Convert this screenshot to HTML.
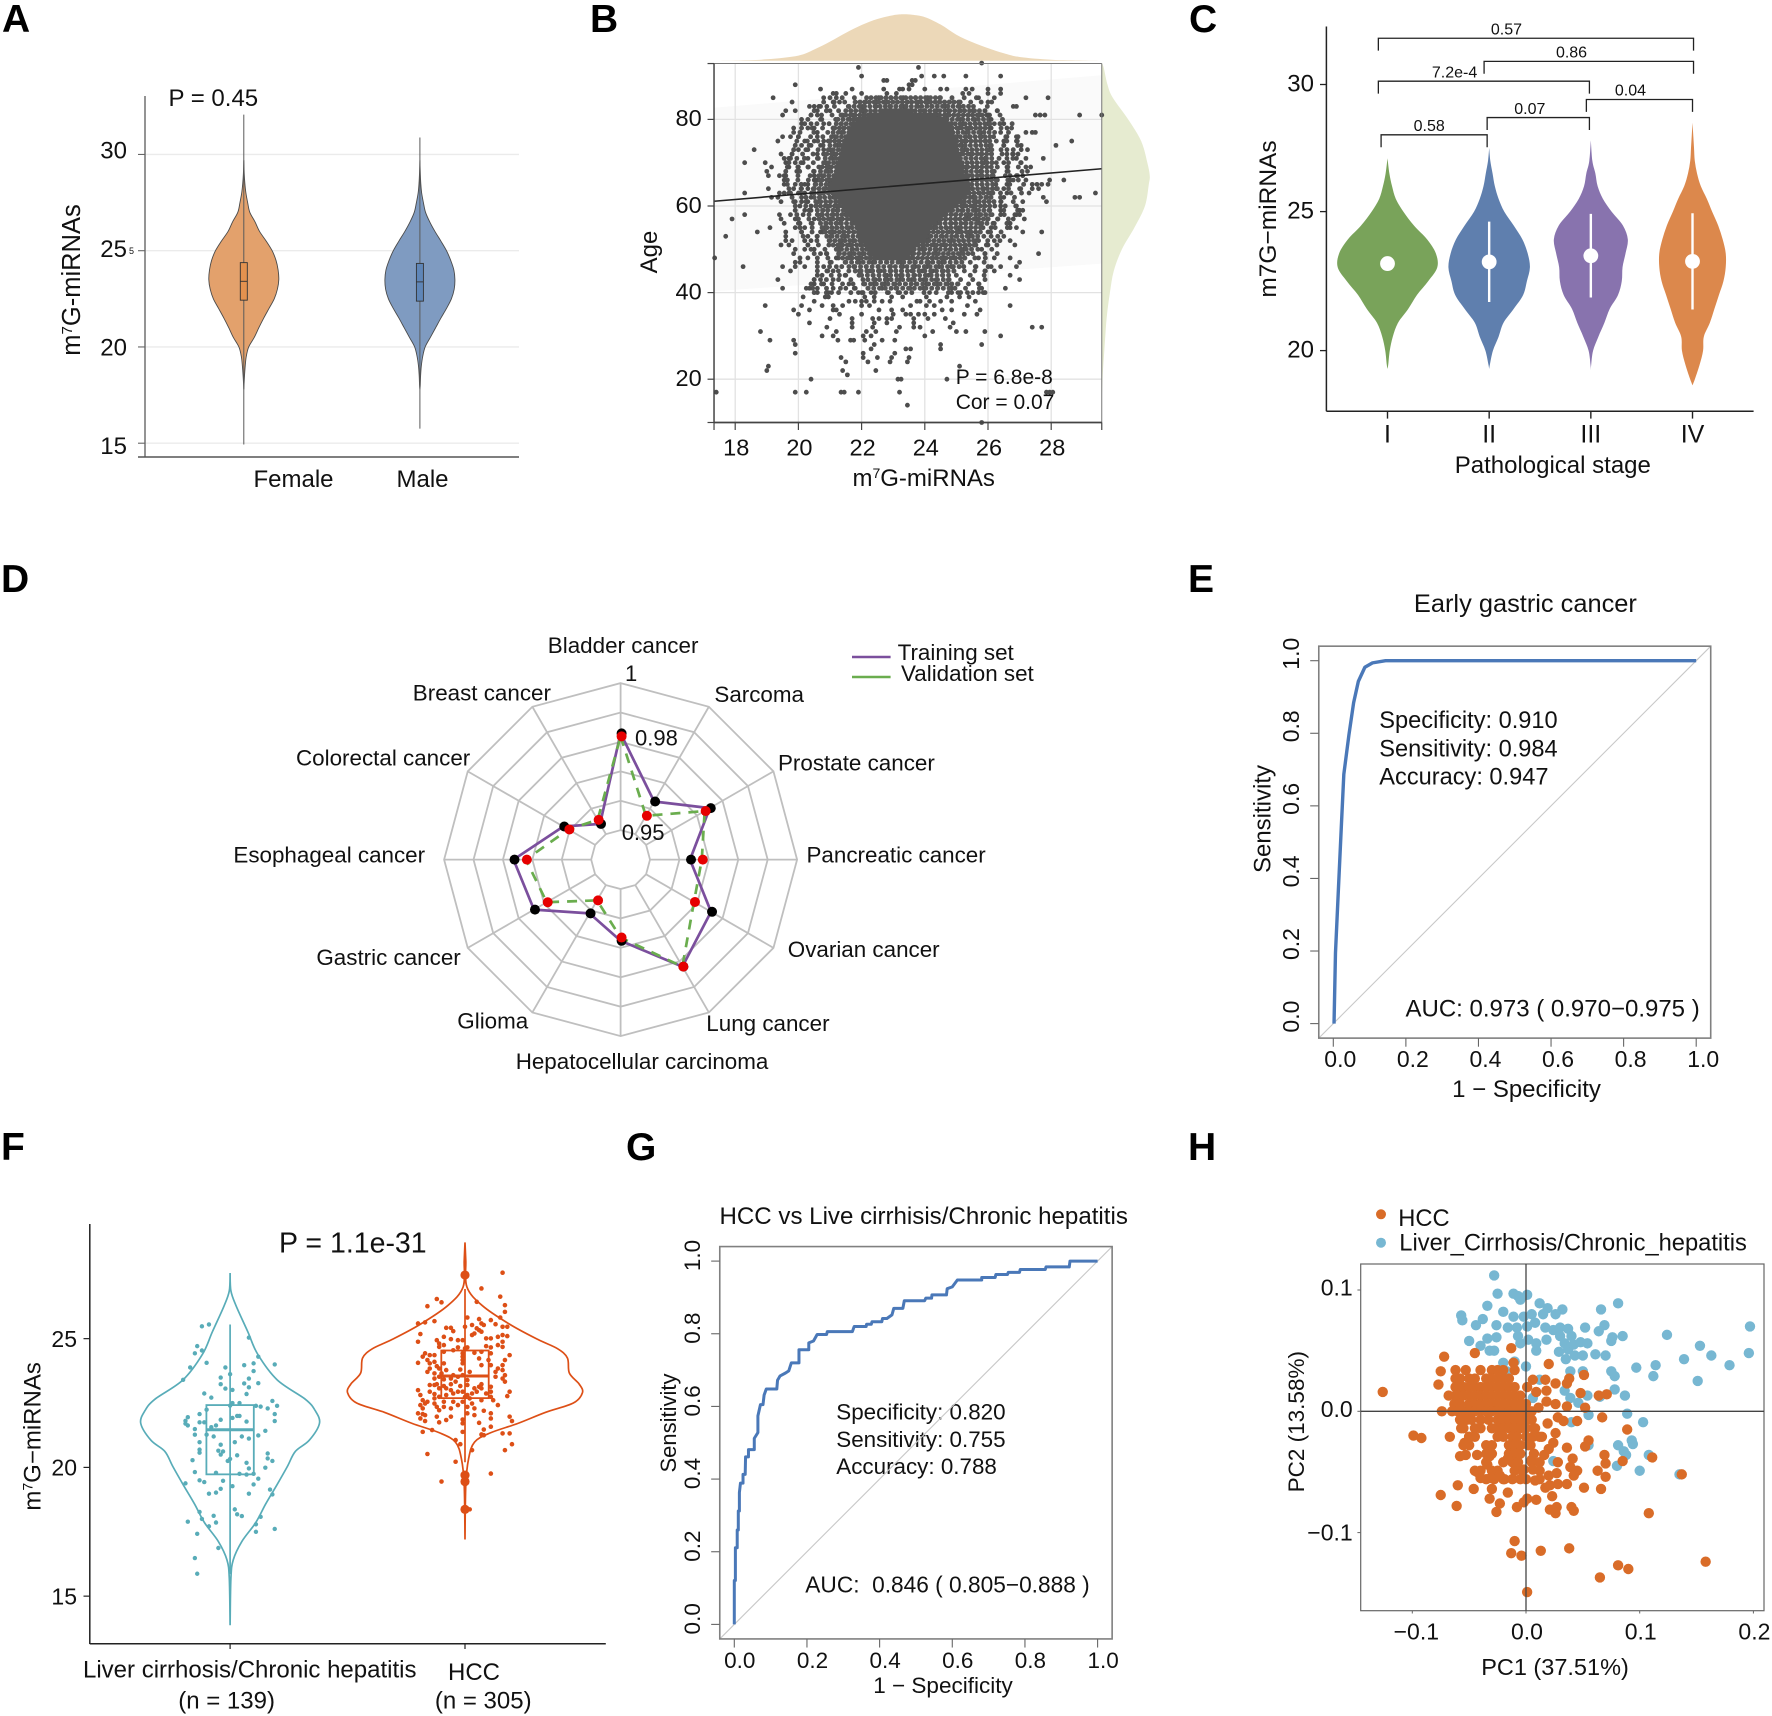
<!DOCTYPE html>
<html lang="en">
<head>
<meta charset="utf-8">
<title>m7G-miRNAs multi-panel figure</title>
<style>
html,body{margin:0;padding:0;background:#fff;}
svg{display:block;font-family:"Liberation Sans",Arial,sans-serif;}
text{fill:#111;white-space:pre;}
.letter{font-weight:700;font-size:39px;fill:#000;}
</style>
</head>
<body>
<svg id="figure" width="1772" height="1716" viewBox="0 0 1772 1716">
<rect x="0" y="0" width="1772" height="1716" fill="#fff"/>

<g id="panelA">
<text class="letter" x="2" y="32">A</text>
<text x="168.5" y="106" font-size="24">P = 0.45</text>
<text transform="translate(80,280) rotate(-90)" text-anchor="middle" font-size="25.5">m<tspan dy="-8" font-size="15">7</tspan><tspan dy="8">G-miRNAs</tspan></text>
<text x="134" y="254" font-size="9" text-anchor="end">5</text>
</g>

<g id="panelB">
<text class="letter" x="590" y="32">B</text>
<text transform="translate(657,252) rotate(-90)" text-anchor="middle" font-size="24">Age</text>
<text x="923.7" y="486" text-anchor="middle" font-size="24">m<tspan dy="-8" font-size="14">7</tspan><tspan dy="8">G-miRNAs</tspan></text>
</g>

<g id="panelC">
<text class="letter" x="1189" y="32">C</text>
<text transform="translate(1276,219) rotate(-90)" text-anchor="middle" font-size="24.5">m7G−miRNAs</text>
<text x="1552.8" y="473" text-anchor="middle" font-size="24">Pathological stage</text>
</g>

<g id="panelD">
<text class="letter" x="1" y="592">D</text>
<g>
<line x1="852" y1="657" x2="890.6" y2="657" stroke="#7b4f9d" stroke-width="2.6"/>
<line x1="852" y1="677" x2="890.6" y2="677" stroke="#6aad4e" stroke-width="2.6"/>
<text x="897.6" y="660" font-size="22.4">Training set</text>
<text x="901" y="681" font-size="22.4">Validation set</text>
</g>
</g>

<g id="panelE">
<text class="letter" x="1188" y="592">E</text>
<text x="1525.4" y="611.8" text-anchor="middle" font-size="25.4">Early gastric cancer</text>
<text transform="translate(1270.6,819) rotate(-90)" text-anchor="middle" font-size="24">Sensitivity</text>
<text x="1526.5" y="1096.8" text-anchor="middle" font-size="24">1 − Specificity</text>
<text x="1379.3" y="728" font-size="23.6">Specificity: 0.910</text>
<text x="1379.3" y="756.4" font-size="23.6">Sensitivity: 0.984</text>
<text x="1379.3" y="784.3" font-size="23.6">Accuracy: 0.947</text>
<text x="1405.5" y="1016.4" font-size="24">AUC: 0.973 ( 0.970−0.975 )</text>
</g>

<g id="panelF">
<text class="letter" x="1" y="1160">F</text>
<text x="279" y="1252.6" font-size="28.5">P = 1.1e-31</text>
<text transform="translate(40.7,1436.4) rotate(-90)" text-anchor="middle" font-size="24">m<tspan dy="-8" font-size="14">7</tspan><tspan dy="8">G−miRNAs</tspan></text>
<text x="83" y="1677.5" font-size="24">Liver cirrhosis/Chronic hepatitis</text>
<text x="448" y="1680" font-size="24">HCC</text>
<text x="226.6" y="1708.5" text-anchor="middle" font-size="24">(n = 139)</text>
<text x="483.2" y="1708.5" text-anchor="middle" font-size="24">(n = 305)</text>
</g>

<g id="panelG">
<text class="letter" x="626" y="1160">G</text>
<text x="923.7" y="1224.2" text-anchor="middle" font-size="24.1">HCC vs Live cirrhisis/Chronic hepatitis</text>
<text transform="translate(676,1423) rotate(-90)" text-anchor="middle" font-size="22">Sensitivity</text>
<text x="943" y="1693" text-anchor="middle" font-size="22.5">1 − Specificity</text>
<text x="836.3" y="1419.6" font-size="22.4">Specificity: 0.820</text>
<text x="836.3" y="1446.9" font-size="22.4">Sensitivity: 0.755</text>
<text x="836.3" y="1473.8" font-size="22.4">Accuracy: 0.788</text>
<text x="805.3" y="1592.3" font-size="22.7">AUC:  0.846 ( 0.805−0.888 )</text>
</g>

<g id="panelH">
<text class="letter" x="1188" y="1160">H</text>
<circle cx="1381" cy="1214.3" r="5" fill="#d96c28"/>
<circle cx="1381" cy="1242.7" r="5" fill="#77b7d2"/>
<text x="1398.3" y="1226" font-size="23.7">HCC</text>
<text x="1399.3" y="1250.7" font-size="23.7">Liver_Cirrhosis/Chronic_hepatitis</text>
<text transform="translate(1304,1421.7) rotate(-90)" text-anchor="middle" font-size="22.5">PC2 (13.58%)</text>
<text x="1555" y="1675" text-anchor="middle" font-size="23.5">PC1 (37.51%)</text>
</g>
</svg>

<script>
/* ---------- Panel A data ---------- */
const aTicks = [30, 25, 20, 15];
const aCategories = ['Female', 'Male'];
const aViolinValues = [17.8, 18, 18.5, 19, 19.5, 20, 20.5, 21, 21.5, 22, 22.5, 23, 23.5, 24, 24.5, 25, 25.5, 26, 26.5, 27, 27.5, 28, 28.5, 29, 29.7];
const aFemaleDensity = [0, 0.005, 0.02, 0.04, 0.07, 0.14, 0.3, 0.43, 0.57, 0.72, 0.87, 0.96, 1, 0.98, 0.92, 0.81, 0.64, 0.45, 0.32, 0.17, 0.11, 0.06, 0.03, 0.012, 0];
const aMaleDensity = [0, 0.01, 0.02, 0.04, 0.08, 0.15, 0.3, 0.45, 0.6, 0.76, 0.9, 0.98, 1, 0.97, 0.88, 0.76, 0.6, 0.43, 0.28, 0.16, 0.1, 0.05, 0.025, 0.012, 0];
const aFemaleBox = [14.93, 22.43, 23.41, 24.38, 32.07];
const aMaleBox = [15.76, 22.38, 23.38, 24.34, 30.88];

/* ---------- Panel B data ---------- */
const bXTicks = [18, 20, 22, 24, 26, 28];
const bYTicks = [80, 60, 40, 20];
const bFitLine = [[17.33, 61.1], [29.6, 68.6]];
const bBandX = [17.33, 29.6];
const bBandUpper = [82.7, 90.2];
const bBandLower = [40.3, 46.7];
const bTopDensityX = [17.33, 18, 19, 20, 20.5, 21, 21.5, 22, 22.5, 23, 23.3, 23.6, 24, 24.5, 25, 25.5, 26, 26.5, 27, 28, 29, 29.6];
const bTopDensity = [0, 0.005, 0.03, 0.11, 0.24, 0.41, 0.6, 0.77, 0.9, 0.98, 1, 0.99, 0.94, 0.78, 0.56, 0.4, 0.27, 0.16, 0.08, 0.02, 0.005, 0];
const bRightDensityAge = [93, 92, 88, 85, 80, 75, 70, 67, 65, 60, 55, 50, 45, 40, 35, 31, 26, 21, 15];
const bRightDensity = [0, 0.04, 0.12, 0.23, 0.55, 0.82, 0.95, 1, 0.98, 0.9, 0.68, 0.42, 0.25, 0.17, 0.11, 0.08, 0.05, 0.02, 0];
const bSolidRows = [[82,22.6,23.6],[81,22.2,24.3],[80,21.85,24.65],[79,21.75,24.75],[78,21.7,24.8],[77,21.6,24.85],[76,21.5,24.9],[75,21.45,24.95],[74,21.4,25],[73,21.4,25],[72,21.35,25.05],[71,21.3,25.05],[70,21.3,25.1],[69,21.25,25.15],[68,21.2,25.2],[67,21.15,25.3],[66,21.1,25.35],[65,21.05,25.4],[64,21.05,25.4],[63,21.1,25.35],[62,21.2,25.3],[61,21.3,25.15],[60,21.4,25],[59,21.5,24.8],[58,21.6,24.6],[57,21.7,24.45],[56,21.8,24.3],[55,21.85,24.2],[54,21.9,24.1],[53,21.95,24.05],[52,22,24],[51,22.1,23.8],[50,22.2,23.6],[49,22.3,23.5],[48,22.4,23.4]];
const bDenseRows = [[85,22.3,24.5],[84,21.8,25.2],[83,21.6,25.5],[82,21.5,25.8],[81,21.35,26],[80,21.25,26.1],[79,21.2,26.1],[78,21.15,26.1],[77,21.1,26.15],[76,21.05,26.15],[75,21,26.15],[74,21,26.2],[73,20.95,26.2],[72,20.9,26.2],[71,20.85,26.2],[70,20.8,26.2],[69,20.75,26.25],[68,20.7,26.25],[67,20.65,26.25],[66,20.6,26.3],[65,20.55,26.3],[64,20.5,26.3],[63,20.5,26.3],[62,20.5,26.25],[61,20.55,26.2],[60,20.55,26.2],[59,20.6,26.15],[58,20.6,26.1],[57,20.65,26.05],[56,20.7,26],[55,20.75,25.9],[54,20.85,25.85],[53,20.9,25.8],[52,21,25.7],[51,21.1,25.6],[50,21.2,25.5],[49,21.3,25.45],[48,21.4,25.4],[47,21.5,25.3],[46,21.6,25.2],[45,21.8,25],[44,22,24.9],[43,22.2,24.8],[42,22.1,25.1],[41,22.2,25]];
const bSparseRows = [[85,21,26],[84,20.8,26.2],[83,20.7,26.3],[82,20.5,26.5],[81,20.4,26.6],[80,20.3,26.7],[79,20.2,26.8],[78,20.1,26.8],[77,20.05,26.9],[76,20,27],[75,19.95,27],[74,19.9,27],[73,19.85,27],[72,19.8,27],[71,19.75,27.05],[70,19.7,27.1],[69,19.65,27.15],[68,19.6,27.2],[67,19.6,27.2],[66,19.65,27.2],[65,19.65,27.2],[64,19.7,27.2],[63,19.75,27.15],[62,19.8,27.15],[61,19.85,27.1],[60,19.9,27.1],[59,19.9,27.05],[58,19.95,27],[57,20,26.95],[56,20,26.9],[55,20.05,26.8],[54,20.1,26.7],[53,20.15,26.6],[52,20.2,26.5],[51,20.3,26.4],[50,20.4,26.4],[49,20.5,26.3],[48,20.6,26.2],[47,20.6,26.2],[46,20.6,26.2],[45,20.6,26.2],[44,20.6,26.2],[43,20.5,26.1],[42,20.4,26],[41,20.45,26],[40,20.5,26]];
const bScatterRows = [
[93,[25.8]],[92,[21.9,23.8]],[90,[22,23.9,24.3,24.6,25.3,26.4]],[89,[22.7,22.8,23.6,23.7]],[88,[19.9,23.5,23.6]],
[87,[20.7,21.7,22.7,23.2,23.3,23.5,24,24.5,24.7,25.3,25.5,26,26.4]],
[86,[21.1,21.2,21.5,22,22.8,23.1,25.2,25.4,26,26.4]],
[85,[19.2,20.8,21.2,25.7,26.2,27.2,27.9]],[84,[19.8,21.1,21.3,26]],[83,[20.35,20.5,20.65,20.9,26.8,26.9]],[82,[19.6,19.9,20.6,21,25.9,26.3]],
[81,[19.5,20.4,20.6,26,27.5,27.65,27.8,28.9,29.6]],[80,[20.1,20.7,26.1]],[79,[20.1,20.4,20.8,26.2,26.5]],[78,[19.85,20.3,20.5,26.1,26.6]],
[77,[19.85,20.6,26.4,27.2,27.4,27.5]],[76,[19.5,19.75,20,20.6,26.6,26.9]],[75,[19.35,20.2,20.5,20.8,26.5,26.9,28.65]],[74,[20.1,20.4,20.7,26.5,27.05,28.15]],
[73,[18.6,20,20.3,20.8,26.6,27.05,27.25]],[72,[19.45,19.8,20.6,26.6,26.8,26.95]],[71,[19.55,19.7,19.95,20.3,20.6,26.6,26.9,27.2,27.75]],[70,[18.3,18.95,19.6,19.9,20.15,26.5,27.05]],
[69,[19.15,19.7,20,20.3,26.6,27.2,27.35]],[68,[19,19.95,20.5,26.6,27.25]],[67,[19.05,19.4,19.55,20.5,26.7,26.9,27.1]],[66,[19.55,20.5,20.55,26.7,26.8,27.2,27.95,28.4]],
[65,[19.55,19.9,20.2,20.3,26.6,27.4,27.55,27.7,27.9]],[64,[19.05,19.85,20.1,20.3,26.5,27,27.4,27.6]],[63,[18.3,19.4,19.55,19.7,20,20.2,26.6,27.3,29.4]],[62,[19.15,19.35,20.1,20.4,26.5,27.75,28.75,28.9]],
[61,[19.45,19.9,20.1,20.3,26.4,27.1,27.85]],[60,[20.05,20.4,26.4,26.9]],[59,[19.9,20.2,20.4,26.4,27,27.1]],[58,[18.3,19.4,19.75,20.15,26.4,26.85,27]],
[57,[17.9,19.45,19.9,20.5,26.3,26.8,27.15]],[56,[19.55,20.05,20.4,26.2,26.7]],[55,[19.1,19.9,20.2,26.1,26.7,26.9]],[54,[18.7,19.6,20.1,20.7,26,27.1,27.7]],
[53,[17.7,19.6,20.3,20.6,26.1,26.5]],[52,[19.6,19.8,20.2,20.4,26.2,26.7]],[51,[19.45,19.7,20.3,26,26.85]],[50,[19.9,20.2,20.5,25.8]],
[49,[19.85,20.7,20.9,25.9,27.6]],[48,[17.35,20.05,20.3,21.2,25.7,26.2,26.7]],[47,[19.9,20.05,21,27]],[46,[18.25,19.5,19.9,20.2,20.8,21.2,25.6,26.1,26.4,26.9]],
[45,[19.75,20.9,21.1,25.9,26.2]],[44,[20.6,20.75,21.3,21.5,26.7]],[43,[19.35,20.5,20.7,21.1,27]],[42,[20.5,20.8,21.6,25.7]],[41,[19.5,20.25,20.35,20.6,21.1,21.5,21.8,25.8,26.55]],
[40,[20.6,20.95,21.05,21.9,22,22.3,22.85,23.15,23.4,24.15,24.85,25.05,25.35,25.7,25.85]],
[39,[20.15,20.85,20.95,22.1,22.4,22.95,23.3,24.05,24.7,25.1,25.4]],
[38,[20.5,21.6,21.8,22,22.15,22.4,22.65,22.9,23.75,23.85,24.15,24.5,24.85,25.6]],
[37,[18.95,20.1,20.75,21.1,21.4,22,22.25,23.55,24.05,24.3,25.35,26.7]],
[36,[19.85,20.35,21.1,21.2,22.55,22.95,23.3,24.55,24.85,25.75]],
[35,[20,21.3,22,23,23.4,23.55,23.8,24,24.3,25.25,25.65]],
[34,[21,21.7,22.35,22.55,22.8,22.95,23.65,24.1,24.65]],
[33,[20.35,21.7,22.4,22.8,23.65,24.9]],
[32,[20.9,21.7,22.35,23.2,23.65,23.85,24.8,27.4,27.7]],
[31,[18.8,21.2,22.15,22.45,23.1,24.25,25,25.3,25.9]],
[30,[20.75,21.1,22.05,22.3,24,26.4]],
[29,[19.1,19.85,21.25,21.65,21.75,22.1,22.65,23.05]],
[28,[19.9,22.4,24.5,25.8]],[27,[22.3,23.4,23.55,24.5]],[26,[19.9,22.05,23.05]],
[25,[21.35,22.05,22.5,22.95,23.5]],[24,[21.5,22.2,22.9,23.45]],[23,[19.05,25.1]],[22,[19,21.4,22.45]],[21,[21.55]],
[20,[20.4,23.15,23.25,24.7]],[17,[17.4,19.9,20.25,21.35,21.45,21.9,23.2,27.85,27.95,28.05]],[14,[23.45]],[10,[25.8]]
];

/* ---------- Panel C data ---------- */
const cStages = ['I', 'II', 'III', 'IV'];
const cTicks = [30, 25, 20];
const cStageColors = ['#79a35a', '#5f7fae', '#8873ae', '#dc884c'];
const cValuesI = [19.34, 19.5, 20, 20.5, 21, 21.5, 22, 22.5, 23, 23.5, 24, 24.5, 25, 25.5, 26, 26.5, 27.1];
const cDensityI = [0, 2, 6, 14, 28, 55, 78, 108, 132, 128, 105, 70, 42, 22, 12, 5, 0];
const cValuesII = [19.34, 19.5, 20, 20.5, 21, 21.5, 22, 22.5, 23, 23.5, 24, 24.5, 25, 25.5, 26, 26.5, 27, 27.5];
const cDensityII = [0, 2, 10, 25, 38, 65, 90, 100, 108, 102, 88, 65, 40, 25, 15, 9, 3, 0];
const cValuesIII = [19.3, 19.5, 20, 20.5, 21, 21.5, 22, 22.5, 23, 23.5, 24, 24.5, 25, 25.5, 26, 26.5, 27, 27.8];
const cDensityIII = [0, 1, 6, 20, 36, 50, 72, 82, 84, 92, 98, 85, 55, 32, 18, 12, 4, 0];
const cValuesIV = [18.75, 19, 19.5, 20, 20.5, 21, 21.5, 22, 22.5, 23, 23.5, 24, 24.5, 25, 25.5, 26, 26.5, 27, 27.5, 28, 28.5];
const cDensityIV = [0, 7, 19, 28, 30, 46, 58, 70, 82, 88, 88, 80, 68, 52, 38, 22, 12, 6, 4, 2, 0];
const cMedians = [23.13, 23.19, 23.41, 23.21];
const cLowerQ = [null, 21.75, 21.91, 21.48];
const cUpperQ = [null, 24.64, 24.92, 24.94];
const cBracketLabels = ['0.57', '0.86', '7.2e-4', '0.04', '0.07', '0.58'];
const cBracketStart = [-0.09, 0.95, -0.09, 1.956, 0.98, -0.063];
const cBracketEnd = [3.01, 3.01, 1.986, 3, 1.986, 0.98];
const cBracketLevel = [31.82, 30.91, 30.13, 29.41, 28.7, 28.02];
const cBracketLabelPos = [1.17, 1.81, 0.66, 2.39, 1.4, 0.41];

/* ---------- Panel D data ---------- */
const dAxes = ['Bladder cancer', 'Sarcoma', 'Prostate cancer', 'Pancreatic cancer', 'Ovarian cancer', 'Lung cancer', 'Hepatocellular carcinoma', 'Glioma', 'Gastric cancer', 'Esophageal cancer', 'Colorectal cancer', 'Breast cancer'];
const dRings = [0.95, 0.96, 0.97, 0.98, 0.99, 1];
const dTraining = [0.9829, 0.9628, 0.975, 0.9636, 0.9755, 0.982, 0.9676, 0.9611, 0.974, 0.9764, 0.9625, 0.954];
const dValidation = [0.9819, 0.9572, 0.973, 0.9676, 0.9688, 0.982, 0.9665, 0.956, 0.969, 0.9722, 0.9605, 0.9556];
const dRingLabels = ['0.95', '0.98', '1'];

/* ---------- Panel E data ---------- */
const rocTicks = [0, 0.2, 0.4, 0.6, 0.8, 1];
const eFpr = [0.002, 0.006, 0.015, 0.022, 0.029, 0.043, 0.056, 0.069, 0.087, 0.108, 0.144, 1];
const eTpr = [0, 0.195, 0.39, 0.54, 0.687, 0.795, 0.884, 0.943, 0.982, 0.994, 1, 1];

/* ---------- Panel F data ---------- */
const fTicks = [25, 20, 15];
const fCategories = ['Liver cirrhosis/Chronic hepatitis', 'HCC'];
const fLiverValues = [13.87, 15.68, 16.41, 17.13, 17.86, 18.58, 19.31, 20.04, 20.62, 21.05, 21.71, 22.21, 22.65, 23.4, 24.39, 25.26, 26.28, 26.86, 27.55];
const fLiverDensity = [0, 2, 8, 30, 65, 90, 118, 145, 165, 200, 226, 215, 190, 119, 70, 45, 15, 2, 0];
const fHccValues = [17.2, 19.31, 20.33, 20.98, 21.34, 21.71, 22.14, 22.5, 22.9, 23.23, 23.66, 24.25, 24.61, 24.97, 25.55, 26.28, 27, 28.02, 28.74];
const fHccDensity = [0, 2, 9, 24, 64, 134, 204, 274, 297, 289, 264, 259, 234, 184, 114, 44, 5, 2, 0];
const fLiverBox = [15.86, 19.73, 21.46, 22.42, 25.55];
const fHccBox = [20.2, 22.69, 23.55, 24.54, 26.93];
const fHccOutliers = [27.47, 19.7, 19.45, 18.37];
const fLiverPoints = [[-.12,25.48],[-.09,25.55],[.08,25.04],[-.14,24.71],[-.15,24.43],[-.12,24.54],[-.10,24.06],[-.17,23.88],[-.20,23.4],[.12,24.3],[.06,23.97],[.10,24.04],[.19,24],[-.02,23.88],[0,23.62],[-.04,23.49],[.1,23.74],[.08,23.45],[.06,23.26],[.12,23.27],[.08,23.11],[-.04,23.23],[-.02,23.06],[.01,23.01],[-.11,22.87],[-.08,22.71],[.07,22.85],[.01,22.5],[.04,22.5],[0,22.4],[-.10,22.24],[-.13,22.07],[-.18,21.95],[-.19,21.81],[-.19,21.7],[-.18,21.63],[-.13,21.75],[-.11,21.75],[-.08,21.56],[-.06,21.63],[-.04,21.85],[.01,21.92],[.03,22],[.04,22],[.07,21.78],[.11,22.39],[.13,22.36],[.16,22.29],[.18,22.58],[.2,22.39],[.19,22.07],[.19,21.8],[.15,21.42],[.12,21.24],[.08,21.12],[.05,21.2],[.02,20.98],[-.07,21.2],[-.1,21.27],[-.15,21.49],[-.15,21.27],[-.13,20.98],[-.13,20.69],[-.05,20.65],[-.03,20.62],[-.04,20.88],[-.04,20.5],[0,20.33],[.03,20.47],[-.01,20.25],[.07,20.18],[.08,19.96],[.16,20.54],[.16,20.35],[.18,20.25],[.15,19.99],[-.16,20.28],[-.13,20.57],[-.15,19.82],[-.06,19.79],[.04,19.75],[.07,19.72],[.1,19.75],[.12,19.56],[.1,19.34],[-.13,19.5],[-.11,19.43],[-.19,19.38],[-.03,19.48],[.01,19.27],[-.04,19.17],[-.06,19.02],[-.09,18.98],[.08,18.98],[.17,19.14],[.18,18.95],[.02,18.37],[.03,18.18],[.05,18.11],[-.13,18.27],[-.12,18],[-.07,18.12],[-.06,17.86],[-.09,17.71],[-.18,17.89],[-.14,17.42],[.13,18.08],[.11,17.79],[.11,17.5],[.19,17.61],[-.05,16.87],[-.15,16.48],[-.14,15.87]];
const fHccPoints = [[.16,27.56],[.07,26.95],[-.12,26.54],[-.16,26.26],[-.10,26.41],[.05,26.43],[.15,26.63],[.17,26.30],[.17,26.04],[.01,25.82],[.06,25.76],[.11,25.72],[.13,25.56],[-.2,25.59],[-.17,25.63],[-.13,25.68],[.03,25.53],[.04,25.2],[.05,25.4],[.07,25.59],[.08,25.53],[.15,25.82],[.16,25.46],[.18,25.46],[-.08,25.42],[-.06,25.42],[-.05,25.29],[0,25.46],[-.19,25.18],[-.2,24.88],[-.09,25.07],[-.12,24.94],[-.11,24.81],[-.06,24.98],[-.03,24.94],[-.01,24.94],[.03,25.14],[.06,25.33],[.07,25.27],[.09,25.01],[.11,25.01],[.14,25.07],[.16,25.14],[.18,25.1],[.14,24.75],[.16,24.88],[.16,24.68],[-.09,24.75],[-.11,24.68],[-.09,24.49],[-.03,24.66],[0,24.62],[.01,24.66],[.09,24.71],[.11,24.66],[-.17,24.43],[-.15,24.36],[-.18,24.3],[-.13,24.36],[-.05,24.55],[-.01,24.43],[-.01,24.3],[.04,24.45],[.07,24.49],[.11,24.43],[.19,24.36],[-.2,24.06],[-.16,24.17],[-.15,24.04],[-.13,24.1],[-.12,23.93],[-.09,24.04],[-.01,24.17],[-.01,24.04],[.06,24.23],[.07,23.97],[.1,24.17],[.11,23.97],[.17,24.17],[.16,23.97],[.14,23.84],[.16,23.78],[-.16,23.71],[-.15,23.84],[-.13,23.65],[-.11,23.84],[-.1,23.65],[-.08,23.78],[.02,23.71],[-.02,23.8],[.13,23.71],[.17,23.58],[.16,23.45],[-.05,23.58],[-.03,23.52],[-.01,23.58],[.01,23.39],[-.06,23.45],[-.13,23.45],[-.11,23.52],[-.09,23.42],[.13,23.52],[.17,23.33],[-.04,23.33],[.01,23.2],[.06,23.13],[.07,23.23],[-.06,23.23],[-.13,23.2],[-.15,23.2],[-.12,23.23],[-.09,23.16],[-.02,23.16],[.04,23.07],[.07,23.07],[.11,23.13],[-.2,23],[-.15,22.94],[-.13,22.85],[-.11,23.07],[-.08,23.07],[-.06,23],[-.03,22.94],[-.01,22.94],[.01,22.81],[.03,22.87],[.05,22.94],[.09,22.87],[.11,22.94],[.19,22.94],[.18,22.77],[-.19,22.81],[-.18,22.61],[-.13,22.68],[-.11,22.74],[-.08,22.81],[-.05,22.87],[0,22.74],[.02,22.68],[.11,22.74],[-.19,22.42],[-.17,22.48],[-.16,22.55],[-.13,22.48],[-.12,22.35],[-.09,22.55],[-.09,22.35],[-.05,22.55],[-.01,22.55],[.03,22.48],[.04,22.29],[.07,22.61],[.12,22.61],[.14,22.42],[-.18,22.29],[-.11,22.22],[-.06,22.29],[-.03,22.42],[.01,22.35],[.01,22.1],[.08,22.2],[.11,22.1],[-.2,22.1],[-.18,22.07],[-.17,22.03],[-.19,21.9],[-.17,21.8],[-.12,21.97],[-.11,21.75],[-.08,21.84],[-.06,21.97],[-.01,21.86],[-.01,21.71],[.04,22.03],[.11,21.9],[.06,21.73],[.19,21.97],[.2,21.8],[-.18,21.38],[-.14,21.45],[-.01,21.38],[.08,21.47],[.11,21.58],[.07,21.28],[.08,21.25],[.16,21.32],[.19,21.32],[-.04,21.06],[-.02,20.9],[.2,20.9],[-.16,20.52],[.03,20.67],[.17,20.67],[-.04,20.22],[.11,19.76],[-.1,19.45],[.02,18.37]];

/* ---------- Panel G data ---------- */
const gFpr = [0,0,.003,.003,.008,.008,.011,.011,.014,.014,.017,.024,.024,.030,.031,.039,.039,.055,.055,.065,.065,.072,.079,.082,.088,.117,.119,.126,.141,.150,.157,.178,.178,.205,.205,.218,.228,.254,.256,.325,.33,.363,.364,.377,.379,.406,.408,.42,.434,.439,.464,.468,.524,.527,.543,.544,.584,.586,.6,.614,.681,.681,.718,.72,.752,.754,.785,.787,.856,.858,.922,.924,1];
const gTpr = [0,.121,.121,.211,.211,.26,.26,.312,.312,.363,.389,.389,.413,.413,.461,.461,.481,.481,.512,.528,.574,.605,.605,.631,.648,.648,.672,.684,.692,.698,.72,.72,.756,.756,.775,.78,.798,.798,.806,.806,.82,.82,.826,.826,.833,.833,.842,.842,.852,.87,.87,.891,.891,.898,.898,.907,.907,.924,.929,.948,.948,.955,.955,.963,.963,.969,.969,.977,.977,.984,.984,1,1];

/* ---------- Panel H data ---------- */
const hXTicks = [-0.1, 0, 0.1, 0.2];
const hYTicks = [0.1, 0, -0.1];
const hLiverPoints = [[-.028,.112],[-.025,.097],[-.011,.097],[-.007,.095],[.001,.096],[-.005,.092],[-.034,.087],[-.02,.082],[.012,.089],[.019,.085],[.032,.084],[.026,.08],[.081,.089],[.066,.084],[-.057,.079],[-.056,.075],[-.038,.076],[-.044,.071],[-.026,.071],[-.011,.078],[-.002,.078],[.005,.08],[.015,.08],[-.016,.069],[-.008,.069],[.001,.07],[.008,.073],[.017,.069],[.024,.067],[.03,.069],[.037,.068],[.052,.069],[.069,.071],[.064,.066],[.076,.061],[.075,.058],[.085,.062],[.124,.063],[.197,.07],[.196,.048],[.153,.054],[.163,.046],[.139,.043],[.179,.038],[.151,.025],[.114,.038],[.112,.029],[.097,.036],[-.05,.058],[-.034,.06],[-.026,.061],[-.04,.054],[-.032,.05],[-.028,.05],[-.007,.062],[-.005,.056],[.002,.059],[.009,.056],[.009,.05],[.018,.059],[.03,.062],[.034,.056],[.04,.062],[.029,.049],[.037,.051],[.042,.055],[.048,.057],[.054,.056],[.035,.043],[.043,.046],[.05,.046],[.061,.047],[.07,.046],[-.02,.04],[-.01,.041],[-.017,.033],[0,.037],[.039,.033],[.05,.033],[.075,.033],[.078,.029],[.078,.018],[.087,.013],[.034,.017],[.039,.011],[.046,.007],[.054,.013],[.065,.012],[.006,.011],[.012,.026],[.055,-.003],[.089,-.002],[.103,-.009],[.04,-.009],[.093,-.024],[.094,-.027],[.081,-.028],[.086,-.033],[.088,-.036],[.108,-.036],[.024,-.041],[.055,-.028],[.08,-.045],[.1,-.049],[.135,-.052]];
const hHccPoints = [[-.126,.016],[-.099,-.02],[-.092,-.022],[-.072,.045],[-.045,.048],[-.013,.052],[.02,.039],[-.075,.033],[-.062,.034],[-.053,.034],[-.077,.022],[-.068,.013],[-.074,0],[-.067,-.021],[-.011,.04],[-.01,.034],[.051,.03],[.038,.027],[.036,.023],[.026,.023],[.017,.026],[.006,.026],[.001,.02],[.009,.016],[.018,.017],[.048,.015],[.064,.013],[.071,.014],[.052,.003],[.067,-.005],[.018,.008],[.026,.006],[.036,.004],[.011,.003],[.028,-.005],[.033,-.008],[.045,-.008],[.019,-.01],[.026,-.018],[.055,-.024],[.052,-.029],[.036,-.03],[.024,-.026],[.02,-.031],[.016,-.036],[.041,-.039],[.028,-.042],[.039,-.046],[.045,-.049],[.042,-.053],[.027,-.051],[.02,-.053],[.006,-.048],[.008,-.057],[-.005,-.056],[.036,-.06],[.028,-.06],[.021,-.061],[.017,-.063],[.051,-.063],[.066,-.064],[.07,-.054],[.07,-.043],[.063,-.049],[.069,-.036],[.085,-.041],[.089,-.015],[.111,-.038],[.137,-.052],[.108,-.084],[.023,-.07],[.04,-.079],[.042,-.082],[.021,-.081],[.027,-.079],[.026,-.084],[.009,-.073],[.001,-.072],[-.008,-.079],[-.002,-.075],[-.016,-.067],[-.023,-.076],[-.026,-.083],[-.032,-.072],[-.03,-.064],[-.046,-.064],[-.06,-.061],[-.075,-.069],[-.061,-.078],[-.04,-.055],[-.043,-.05],[-.031,-.055],[-.023,-.053],[-.019,-.056],[-.058,-.037],[-.053,-.036],[-.054,-.026],[-.05,-.021],[-.043,-.036],[-.034,-.044],[-.032,-.037],[-.016,-.039],[-.008,-.046],[.005,-.04],[-.002,-.048],[.004,-.028],[.014,-.021],[.008,-.014],[-.01,-.107],[-.013,-.117],[-.004,-.119],[.013,-.115],[.038,-.113],[.081,-.127],[.09,-.13],[.065,-.137],[.001,-.149],[.158,-.124]];
const hHccCoreRows = [[.034,[-.04,-.03,-.025,-.02]],[.027,[-.062,-.058,-.05,-.045,-.035,-.03,-.025,-.02,-.015]],[.02,[-.062,-.06,-.055,-.05,-.045,-.04,-.035,-.03,-.025,-.02,-.015,-.01]],[.013,[-.062,-.058,-.055,-.05,-.045,-.04,-.035,-.03,-.025,-.02,-.015,-.01,-.005]],[.006,[-.063,-.058,-.05,-.045,-.04,-.035,-.03,-.025,-.02,-.015,-.01,-.005,0]],[0,[-.065,-.06,-.055,-.05,-.045,-.04,-.035,-.03,-.025,-.02,-.015,-.01,-.005,0,.005]],[-.007,[-.058,-.052,-.048,-.04,-.033,-.025,-.02,-.015,-.01,-.005,0,.005]],[-.014,[-.057,-.055,-.045,-.04,-.03,-.025,-.02,-.015,-.01,-.005,0,.007]],[-.021,[-.05,-.045,-.025,-.02,-.012,-.008,0,.006,.012]],[-.028,[-.055,-.05,-.035,-.03,-.015,-.01,-.005,.002]],[-.035,[-.035,-.03,-.015,-.01,-.005,.007]],[-.042,[-.035,-.02,-.012,-.007,.005,.012]],[-.049,[-.045,-.04,-.03,-.025,-.01,-.003,.012]],[-.056,[-.035,-.028,-.02,-.012,0,.012]]];

/* ---------- helpers ---------- */
const SVG_NS = document.getElementById('figure').namespaceURI;
function svgEl(tag, parent, attrs) {
  const el = document.createElementNS(SVG_NS, tag);
  for (const k in attrs) el.setAttribute(k, attrs[k]);
  parent.appendChild(el);
  return el;
}
function f(n) { return (+n).toFixed(2); }
function smoothThrough(pts) {
  let d = '';
  for (let i = 0; i < pts.length - 1; i++) {
    const p0 = pts[Math.max(i - 1, 0)], p1 = pts[i], p2 = pts[i + 1], p3 = pts[Math.min(i + 2, pts.length - 1)];
    d += 'C' + f(p1[0] + (p2[0] - p0[0]) / 6) + ' ' + f(p1[1] + (p2[1] - p0[1]) / 6) + ' ' + f(p2[0] - (p3[0] - p1[0]) / 6) + ' ' + f(p2[1] - (p3[1] - p1[1]) / 6) + ' ' + f(p2[0]) + ' ' + f(p2[1]);
  }
  return d;
}
function violinPath(values, widths, yScale, cx, widthScale) {
  const right = values.map((v, i) => [cx + widthScale(widths[i]), yScale(v)]);
  const left = values.map((v, i) => [cx - widthScale(widths[i]), yScale(v)]).reverse();
  return 'M' + f(right[0][0]) + ' ' + f(right[0][1]) + smoothThrough(right) + 'L' + f(left[0][0]) + ' ' + f(left[0][1]) + smoothThrough(left) + 'Z';
}
function tickLine(parent, x1, y1, x2, y2, color, width) {
  const t = svgEl('line', parent, { x1: x1, y1: y1, x2: x2, y2: y2, stroke: color, 'stroke-width': width });
  
  
  return t;
}
function axisLine(parent, x1, y1, x2, y2, color, width) {
  const t = svgEl('line', parent, { x1: x1, y1: y1, x2: x2, y2: y2, stroke: color, 'stroke-width': width });
  
  
  return t;
}
function gridLine(parent, x1, y1, x2, y2, color, width) {
  const t = svgEl('line', parent, { x1: x1, y1: y1, x2: x2, y2: y2, stroke: color, 'stroke-width': width });
  
  
  return t;
}
function tickText(parent, text, x, y, size, anchor, rotated) {
  const t = svgEl('text', parent, { x: f(x), y: f(y), 'font-size': size, 'text-anchor': anchor });
  if (rotated) t.setAttribute('transform', 'rotate(-90 ' + f(x) + ' ' + f(y) + ')');
  t.textContent = text;
  
  
  return t;
}

/* ---------- Panel A ---------- */
(function () {
  const g = document.getElementById('panelA');
  const yA = v => 250.7 + (25 - v) * 19.25;
  const labelY = v => 158.5 + (30 - v) * 19.7;
  const catX = i => 243.8 + i * 176.1;
  const widthA = d => d * 35;
  aTicks.forEach(v => {
    gridLine(g, 145, yA(v), 519, yA(v), '#ebebeb', 1.4);
    tickLine(g, 138, yA(v), 145, yA(v), '#666', 1.1);
    tickText(g, String(v), 127, labelY(v), 24, 'end', false);
  });
  axisLine(g, 145, 96, 145, 457, '#666', 1.4);
  axisLine(g, 138, 457, 519, 457, '#555', 1.6);
  const densities = [aFemaleDensity, aMaleDensity];
  const boxes = [aFemaleBox, aMaleBox];
  const fills = ['#e3a16c', '#7f9bc1'];
  const boxFills = ['#e4924f', '#5f86b8'];
  aCategories.forEach((name, i) => {
    const cx = catX(i);
    const v = svgEl('path', g, { d: violinPath(aViolinValues, densities[i], yA, cx, widthA), fill: fills[i], stroke: '#4a4a4a', 'stroke-width': 0.9 });
    
    
    const b = boxes[i];
    const whisker = svgEl('line', g, { x1: cx, x2: cx, y1: yA(b[0]), y2: yA(b[4]), stroke: '#5a5a5a', 'stroke-width': 1 });
    
    
    const rect = svgEl('rect', g, { x: cx - 3.5, width: 7, y: yA(b[3]), height: yA(b[1]) - yA(b[3]), fill: boxFills[i], stroke: '#333', 'stroke-width': 0.9 });
    
    
    const med = svgEl('line', g, { x1: cx - 3.5, x2: cx + 3.5, y1: yA(b[2]), y2: yA(b[2]), stroke: '#333', 'stroke-width': 0.9 });
    
    
    tickText(g, name, i === 0 ? 253.5 : 396.5, 487, 24, 'start', false);
  });
})();

/* ---------- Panel B ---------- */
(function () {
  const g = document.getElementById('panelB');
  const xB = v => 735.2 + (v - 18) * 31.6;
  const yB = v => 119.4 + (80 - v) * 4.33;
  const left = xB(17.33), right = xB(29.6), top = yB(92.9), bottom = yB(10);
  const topPts = bTopDensityX.map((v, i) => [xB(v), 60.7 - bTopDensity[i] * 46.4]);
  const topArea = svgEl('path', g, { d: 'M' + f(topPts[0][0]) + ' ' + f(topPts[0][1]) + smoothThrough(topPts) + 'Z', fill: '#ecd8b8' });
  
  
  const rightPts = bRightDensityAge.map((a, i) => [right + bRightDensity[i] * 48, yB(a)]);
  const rightArea = svgEl('path', g, { d: 'M' + f(rightPts[0][0]) + ' ' + f(rightPts[0][1]) + smoothThrough(rightPts) + 'Z', fill: '#e6ebd0' });
  
  
  const band = svgEl('polygon', g, { points: f(xB(bBandX[0])) + ',' + f(yB(bBandUpper[0])) + ' ' + f(xB(bBandX[1])) + ',' + f(yB(bBandUpper[1])) + ' ' + f(xB(bBandX[1])) + ',' + f(yB(bBandLower[1])) + ' ' + f(xB(bBandX[0])) + ',' + f(yB(bBandLower[0])), fill: '#fafafa' });
  
  
  bXTicks.forEach(v => {
    gridLine(g, xB(v), top, xB(v), bottom, '#e2e2e2', 1.3);
    tickLine(g, xB(v), bottom, xB(v), bottom + 7.5, '#444', 1.2);
    tickText(g, String(v), xB(v) + 1, 455.5, 23.5, 'middle', false);
  });
  bYTicks.forEach(v => {
    gridLine(g, left, yB(v), right, yB(v), '#e2e2e2', 1.3);
    tickLine(g, left - 6.5, yB(v), left, yB(v), '#444', 1.2);
    tickText(g, String(v), 701.7, yB(v) + 6.8, 23.5, 'end', false);
  });
  tickLine(g, left - 6.5, top, left, top, '#444', 1.2);
  tickLine(g, left - 6.5, bottom, left, bottom, '#444', 1.2);
  tickLine(g, left, bottom, left, bottom + 7.5, '#444', 1.2);
  tickLine(g, right, bottom, right, bottom + 7.5, '#444', 1.2);
  const sparseGroup = svgEl('g', g, { stroke: '#525252', 'stroke-width': 4.9, 'stroke-linecap': 'round', fill: 'none' });
  
  
  bSparseRows.forEach(r => {
    const seg = svgEl('line', sparseGroup, { x1: f(xB(r[1])), x2: f(xB(r[2])), y1: f(yB(r[0])), y2: f(yB(r[0])), 'stroke-dasharray': '0 ' + (10.5 + (r[0] % 3) * 1.7) });
    
    
  });
  const denseGroup = svgEl('g', g, { stroke: '#565656', 'stroke-width': 5, 'stroke-linecap': 'round', fill: 'none' });
  
  
  bDenseRows.forEach(r => {
    const gap = r[0] >= 48 ? 4.7 + (r[0] % 3) * 0.25 : 5.8;
    const seg = svgEl('line', denseGroup, { x1: f(xB(r[1])), x2: f(xB(r[2])), y1: f(yB(r[0])), y2: f(yB(r[0])), 'stroke-dasharray': '0 ' + gap });
    
    
  });
  const solidGroup = svgEl('g', g, { stroke: '#565656', 'stroke-width': 4.8, 'stroke-linecap': 'round' });
  
  
  bSolidRows.forEach(r => {
    const seg = svgEl('line', solidGroup, { x1: f(xB(r[1])), x2: f(xB(r[2])), y1: f(yB(r[0])), y2: f(yB(r[0])) });
    
    
  });
  const dots = svgEl('g', g, { fill: '#4d4d4d' });
  
  
  bScatterRows.forEach(r => r[1].forEach(x => {
    const c = svgEl('circle', dots, { cx: f(xB(x)), cy: f(yB(r[0])), r: 2.4 });
    
    
  }));
  const fit = svgEl('line', g, { x1: f(xB(bFitLine[0][0])), y1: f(yB(bFitLine[0][1])), x2: f(xB(bFitLine[1][0])), y2: f(yB(bFitLine[1][1])), stroke: '#222', 'stroke-width': 1.6 });
  
  
  axisLine(g, left, top, right, top, '#777', 1);
  axisLine(g, right, top, right, bottom, '#777', 1);
  axisLine(g, left, top, left, bottom, '#444', 1.5);
  axisLine(g, left, bottom, right, bottom, '#444', 1.7);
  const p = svgEl('text', g, { x: 955.7, y: 384, 'font-size': 21 });
  p.textContent = 'P = 6.8e-8';
  
  
  const cor = svgEl('text', g, { x: 955.7, y: 409, 'font-size': 21 });
  cor.textContent = 'Cor = 0.07';
  
  
})();

/* ---------- Panel C ---------- */
(function () {
  const g = document.getElementById('panelC');
  const yC = v => v >= 25 ? 211.6 - (v - 25) * 25.42 : 211.6 + (25 - v) * 27.8;
  const xC = i => 1387.5 + i * 101.67;
  const widthC = d => d / 2.65;
  axisLine(g, 1326.4, 26.5, 1326.4, 411.3, '#222', 1.5);
  axisLine(g, 1326.4, 411.3, 1753.6, 411.3, '#222', 1.5);
  cTicks.forEach(v => {
    tickLine(g, 1320, yC(v), 1326.4, yC(v), '#222', 1.3);
    tickText(g, String(v), 1314, yC(v) + 7, 24, 'end', false);
  });
  const vals = [cValuesI, cValuesII, cValuesIII, cValuesIV];
  const dens = [cDensityI, cDensityII, cDensityIII, cDensityIV];
  cStages.forEach((s, i) => {
    const v = svgEl('path', g, { d: violinPath(vals[i], dens[i], yC, xC(i), widthC), fill: cStageColors[i] });
    
    
    if (cLowerQ[i] !== null) {
      const iq = svgEl('line', g, { x1: xC(i), x2: xC(i), y1: yC(cLowerQ[i]), y2: yC(cUpperQ[i]), stroke: '#fff', 'stroke-width': 2.4 });
      
      
    }
    const m = svgEl('circle', g, { cx: xC(i), cy: yC(cMedians[i]), r: 7.4, fill: '#fff' });
    
    
    tickLine(g, xC(i), 411.3, xC(i), 418.6, '#222', 1.4);
    tickText(g, s, xC(i), 442.5, 25, 'middle', false);
  });
  cBracketLabels.forEach((label, i) => {
    const x1 = xC(cBracketStart[i]), x2 = xC(cBracketEnd[i]), y = yC(cBracketLevel[i]);
    const b = svgEl('path', g, { d: 'M' + f(x1) + ' ' + f(y + 12.4) + 'V' + f(y) + 'H' + f(x2) + 'V' + f(y + 12.4), fill: 'none', stroke: '#222', 'stroke-width': 1.3 });
    
    
    const t = svgEl('text', g, { x: f(xC(cBracketLabelPos[i])), y: f(y - 3.8), 'font-size': 16, 'text-anchor': 'middle' });
    t.textContent = label;
    
    
  });
})();

/* ---------- Panel D ---------- */
(function () {
  const g = document.getElementById('panelD');
  const cx = 620.6, cy = 859.6, R = 176.5;
  const rD = v => R * ((v - 0.95) * 100 + 1) / 6;
  const px = (i, v) => cx + rD(v) * Math.sin(i * Math.PI / 6);
  const py = (i, v) => cy - rD(v) * Math.cos(i * Math.PI / 6);
  dRings.forEach(v => {
    const pts = dAxes.map((a, i) => f(px(i, v)) + ',' + f(py(i, v))).join(' ');
    const ring = svgEl('polygon', g, { points: pts, fill: 'none', stroke: '#bfbfbf', 'stroke-width': 1.8 });
    
    
  });
  dAxes.forEach((a, i) => {
    const s = svgEl('line', g, { x1: f(px(i, dRings[0])), y1: f(py(i, dRings[0])), x2: f(px(i, dRings[5])), y2: f(py(i, dRings[5])), stroke: '#bfbfbf', 'stroke-width': 1.8 });
    
    
  });
  const trainPts = dTraining.map((v, i) => f(px(i, v)) + ',' + f(py(i, v))).join(' ');
  const valPts = dValidation.map((v, i) => f(px(i, v)) + ',' + f(py(i, v))).join(' ');
  const trainLine = svgEl('polygon', g, { points: trainPts, fill: 'none', stroke: '#7b4f9d', 'stroke-width': 2.7, 'stroke-linejoin': 'round' });
  
  
  const valLine = svgEl('polygon', g, { points: valPts, fill: 'none', stroke: '#6aad4e', 'stroke-width': 2.7, 'stroke-dasharray': '10 8' });
  
  
  dTraining.forEach((v, i) => {
    const c = svgEl('circle', g, { cx: f(px(i, v) + 1), cy: f(py(i, v)), r: 5, fill: '#000' });
    
    
  });
  dValidation.forEach((v, i) => {
    const c = svgEl('circle', g, { cx: f(px(i, v) + 1), cy: f(py(i, v)), r: 5, fill: '#e60000' });
    
    
  });
  const labelAnchor = [[547.8, 653], [714.4, 701.9], [778, 770.7], [806.5, 862.3], [787.8, 957], [706.3, 1031], [515.7, 1069], [457.3, 1028.3], [316.4, 965], [233.4, 862.3], [296, 765.6], [412.8, 700.5]];
  dAxes.forEach((a, i) => {
    const t = svgEl('text', g, { x: labelAnchor[i][0], y: labelAnchor[i][1], 'font-size': 22.4 });
    t.textContent = a;
    
    
  });
  const ringLabelAnchor = [[621.7, 840], [635, 745.3], [625, 681.2]];
  dRingLabels.forEach((l, i) => {
    const t = svgEl('text', g, { x: ringLabelAnchor[i][0], y: ringLabelAnchor[i][1], 'font-size': 22 });
    t.textContent = l;
    
    
  });
})();

/* ---------- ROC panels E and G ---------- */
function drawRoc(g, x0, y0, unit, fpr, tpr, tickY, tickX, rotX, size, xShift, yShift, curveWidth, tickLen) {
  const xR = v => x0 + v * unit;
  const yR = v => y0 - v * unit;
  const diag = svgEl('line', g, { x1: xR(-0.04), y1: yR(-0.04), x2: xR(1.04), y2: yR(1.04), stroke: '#c8c8c8', 'stroke-width': 1.1 });
  
  
  const box = svgEl('rect', g, { x: xR(-0.04), y: yR(1.04), width: unit * 1.08, height: unit * 1.08, fill: 'none', stroke: '#808080', 'stroke-width': 1.6 });
  
  
  rocTicks.forEach(v => {
    tickLine(g, xR(v), yR(-0.04), xR(v), yR(-0.04) + tickLen, '#666', 1.1);
    tickLine(g, xR(-0.04) - tickLen, yR(v), xR(-0.04), yR(v), '#666', 1.1);
    tickText(g, v.toFixed(1), xR(v) + xShift, tickX, size, 'middle', false);
    tickText(g, v.toFixed(1), rotX, yR(v) - yShift, size, 'middle', true);
  });
  const pts = fpr.map((v, i) => f(xR(v)) + ',' + f(yR(tpr[i]))).join(' ');
  const curve = svgEl('polyline', g, { points: pts, fill: 'none', stroke: '#4a78b8', 'stroke-width': curveWidth, 'stroke-linejoin': 'round' });
  
  
}
drawRoc(document.getElementById('panelE'), 1333.3, 1023.6, 362.9, eFpr, eTpr, 0, 1067, 1298.9, 23, 7, 7, 3.4, 8.6);
drawRoc(document.getElementById('panelG'), 734.3, 1624.4, 363.3, gFpr, gTpr, 0, 1668, 699.9, 22.5, 5.5, 5.6, 3, 8.6);

/* ---------- Panel F ---------- */
(function () {
  const g = document.getElementById('panelF');
  const yF = v => 1467.4 - (v - 20) * 25.75;
  const xF = i => 230.1 + i * 234.9;
  const jitter = o => o * 234.9;
  const widthF = d => d / 2.529;
  const liverColor = '#58acb8', hccColor = '#dd4f16';
  axisLine(g, 89.8, 1224, 89.8, 1644, '#222', 1.5);
  axisLine(g, 89.8, 1643.8, 605.8, 1643.8, '#222', 1.5);
  fTicks.forEach(v => {
    tickLine(g, 83.5, yF(v), 89.8, yF(v), '#222', 1.2);
    tickText(g, String(v), 77, yF(v) + 8.2, 23, 'end', false);
  });
  fCategories.forEach((c, i) => tickLine(g, xF(i), 1643.8, xF(i), 1649, '#222', 1.2));
  function drawViolin(i, values, dens, box, color) {
    const cx = xF(i);
    const v = svgEl('path', g, { d: violinPath(values, dens, yF, cx, widthF), fill: 'none', stroke: color, 'stroke-width': 1.7 });
    
    
    const w = svgEl('line', g, { x1: cx, x2: cx, y1: yF(box[0]), y2: yF(box[4]), stroke: color, 'stroke-width': 1.7 });
    
    
    const r = svgEl('rect', g, { x: cx - 23.7, width: 47.4, y: yF(box[3]), height: yF(box[1]) - yF(box[3]), fill: 'none', stroke: color, 'stroke-width': 1.8 });
    
    
    const m = svgEl('line', g, { x1: cx - 23.7, x2: cx + 23.7, y1: yF(box[2]), y2: yF(box[2]), stroke: color, 'stroke-width': 3 });
    
    
  }
  drawViolin(0, fLiverValues, fLiverDensity, fLiverBox, liverColor);
  drawViolin(1, fHccValues, fHccDensity, fHccBox, hccColor);
  fLiverPoints.forEach(p => {
    const c = svgEl('circle', g, { cx: f(xF(0) + jitter(p[0])), cy: f(yF(p[1])), r: 2.2, fill: liverColor });
    
    
  });
  fHccPoints.forEach(p => {
    const c = svgEl('circle', g, { cx: f(xF(1) + jitter(p[0])), cy: f(yF(p[1])), r: 2.3, fill: hccColor });
    
    
  });
  fHccOutliers.forEach(v => {
    const c = svgEl('circle', g, { cx: xF(1), cy: f(yF(v)), r: 4.6, fill: hccColor });
    
    
  });
})();

/* ---------- Panel H ---------- */
(function () {
  const g = document.getElementById('panelH');
  const xH = v => 1526 + v * 1137;
  const yH = v => 1411.3 - v * 1213;
  hLiverPoints.forEach(p => {
    const c = svgEl('circle', g, { cx: f(xH(p[0])), cy: f(yH(p[1])), r: 5.2, fill: '#77b7d2' });
    
    
  });
  hHccCoreRows.forEach(r => r[1].forEach(x => {
    const c = svgEl('circle', g, { cx: f(xH(x)), cy: f(yH(r[0])), r: 5.2, fill: '#d96c28' });
    
    
  }));
  hHccPoints.forEach(p => {
    const c = svgEl('circle', g, { cx: f(xH(p[0])), cy: f(yH(p[1])), r: 5.2, fill: '#d96c28' });
    
    
  });
  const frame = svgEl('rect', g, { x: 1360.7, y: 1264, width: 403.3, height: 346.7, fill: 'none', stroke: '#666', 'stroke-width': 1.2 });
  
  
  axisLine(g, 1360.7, yH(0), 1764, yH(0), '#444', 1.3);
  axisLine(g, xH(0), 1264, xH(0), 1610.7, '#444', 1.3);
  hXTicks.forEach(v => {
    tickLine(g, xH(v), 1610.7, xH(v), 1613.5, '#666', 1);
    tickText(g, (v < 0 ? '−' : '') + Math.abs(v).toFixed(1), xH(v) + (v < 0 ? 4 : 1), 1639.3, 23, 'middle', false);
  });
  hYTicks.forEach(v => {
    tickLine(g, 1357.4, yH(v), 1360.7, yH(v), '#666', 1);
    tickText(g, (v < 0 ? '−' : '') + Math.abs(v).toFixed(1), 1352.7, yH(v) + (v < 0 ? 8 : 5.5), 23, 'end', false);
  });
})();
</script>
</body>
</html>
